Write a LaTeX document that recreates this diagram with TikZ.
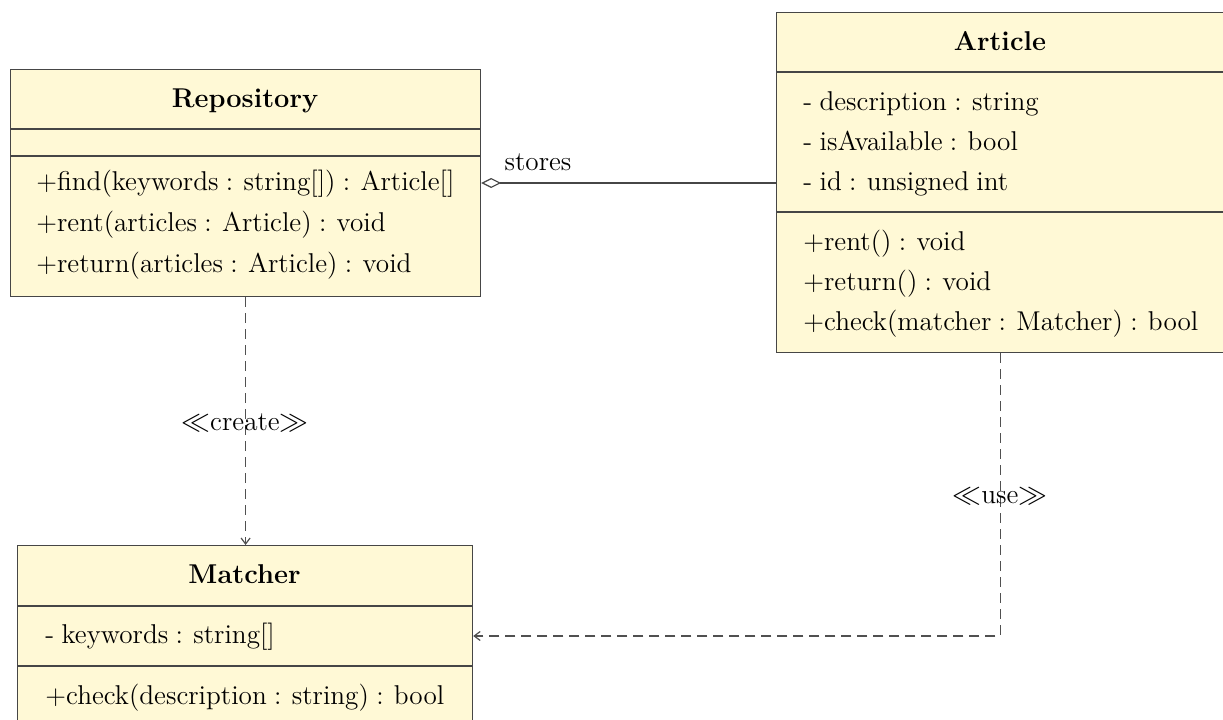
\documentclass[tikz,border=0pt]{standalone}
\usetikzlibrary{arrows.meta}
\definecolor{boxfill}{RGB}{255,249,214}
\definecolor{boxline}{RGB}{70,70,70}
\definecolor{dashline}{RGB}{80,80,80}
\newcommand{\umlfont}{\fontsize{13.6}{16}\selectfont\spaceskip=0.27em plus 0.1em minus 0.05em\relax}
\tikzset{
  classbox/.style={draw=boxline, fill=boxfill, line width=0.6pt, anchor=north west, inner sep=0pt},
  divider/.style={draw=boxline, line width=0.6pt},
  member/.style={anchor=base west, inner sep=0pt, font=\umlfont},
  title/.style={anchor=base, inner sep=0pt, font=\umlfont\bfseries},
  lbl/.style={anchor=base, inner sep=0pt, font=\umlfont},
  aggr/.style={draw=boxline, line width=0.6pt, {Diamond[open,length=10pt,width=5pt]}-},
  depend/.style={draw=dashline, line width=0.6pt, dash pattern=on 5pt off 3pt, -{Straight Barb[length=3pt,width=4.5pt]}}
}
\begin{document}
\begin{tikzpicture}[x=0.5pt,y=-0.5pt]
\useasboundingbox (0,0) rectangle (1223,719);
% Repository
\node[classbox, minimum width=235pt, minimum height=113.5pt] (repo) at (10,69) {};
\draw[divider] (10,129) -- (480,129);
\draw[divider] (10,156) -- (480,156);
\node[title] (repot) at (245,107) {Repository};
\node[member] (rfind) at (36,190) {+find(keywords : string[]) : Article[]};
\node[member] (rrent) at (36,231) {+rent(articles : Article) : void};
\node[member] (rret) at (36,272) {+return(articles : Article) : void};
\coordinate (aggy) at (0,183);
% Article
\node[classbox, minimum width=224pt, minimum height=170pt] (art) at (776,12) {};
\draw[divider] (776,72) -- (1224,72);
\draw[divider] (776,212) -- (1224,212);
\node[title] (artt) at (1000,50) {Article};
\node[member] (adesc) at (803,110) {- description : string};
\node[member] (aavail) at (803,150) {- isAvailable : bool};
\node[member] (aid) at (803,190) {- id : unsigned int};
\node[member] (arent) at (803,250) {+rent() : void};
\node[member] (aret) at (803,290) {+return() : void};
\node[member] (acheck) at (803,330) {+check(matcher : Matcher) : bool};
% Matcher
\node[classbox, minimum width=227.5pt, minimum height=95pt] (match) at (17,545) {};
\draw[divider] (17,606) -- (472,606);
\draw[divider] (17,666) -- (472,666);
\node[title] (matcht) at (244.5,583) {Matcher};
\node[member] (mkw) at (45,643) {- keywords : string[]};
\node[member] (mcheck) at (45,704) {+check(description : string) : bool};
\coordinate (usey) at (0,636);
% connectors
\draw[aggr] (repo.east |- aggy) -- (art.west |- aggy);
\node[lbl] (stores) at (538,170) {stores};
\draw[depend] (repo.south) -- (repo.south |- match.north);
\node[lbl] (create) at (245,430) {$\ll$create$\gg$};
\draw[depend] (art.south) |- (match.east |- usey);
\node[lbl] (use) at (1000,503) {$\ll$use$\gg$};
\end{tikzpicture}
\end{document}
